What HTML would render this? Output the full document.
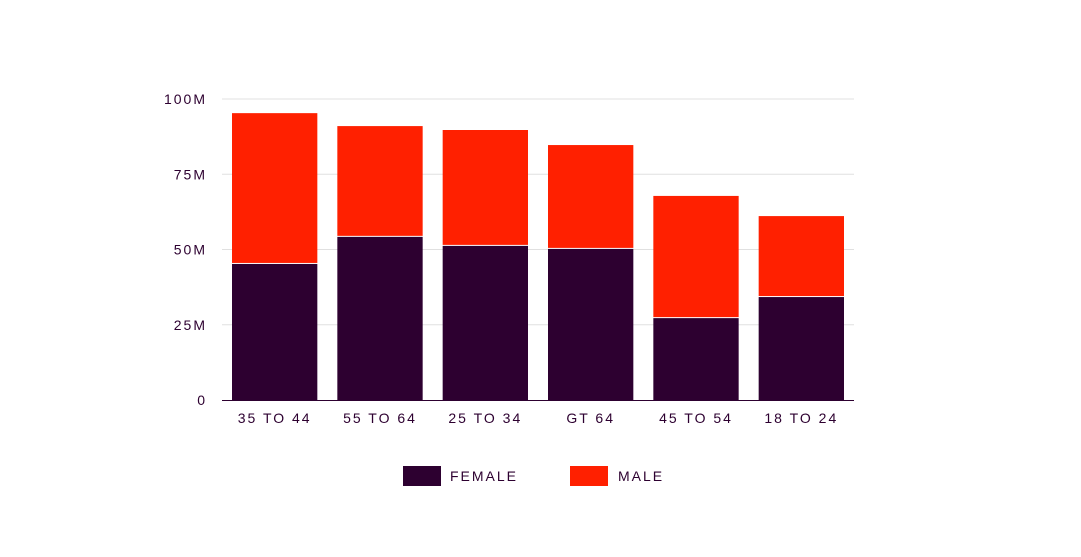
<!DOCTYPE html>
<html><head><meta charset="utf-8"><style>
body{margin:0;background:#fff;width:1081px;height:552px;overflow:hidden;font-family:"Liberation Sans",sans-serif}
text{font-family:"Liberation Sans",sans-serif;fill:#2d0030;letter-spacing:2px;font-size:14px}
</style></head><body>
<svg id="chart" width="1081" height="552" xmlns="http://www.w3.org/2000/svg">
<g id="grid"></g>
<g id="bars"></g>
<g id="axes"></g>
<g>
<rect x="403" y="466" width="38" height="20" fill="#2d0030"/>
<text x="450" y="481">FEMALE</text>
<rect x="570" y="466" width="38" height="20" fill="#ff2000"/>
<text x="618" y="481">MALE</text>
</g>
</svg>
<script>
const categories=["35 TO 44","55 TO 64","25 TO 34","GT 64","45 TO 54","18 TO 24"];
const female=[45.2,54.2,51.2,50.2,27.2,34.2];
const male=[50.1,36.8,38.5,34.5,40.6,26.9];
const yTicks=[0,25,50,75,100];
const yTickLabels=["0","25M","50M","75M","100M"];
const NS="http://www.w3.org/2000/svg";
const x0=222,x1=854,y0=400,y100=99;
const y=v=>y0-(v/100)*(y0-y100);
const band=(x1-x0)/categories.length;
const bx=i=>x0+i*band+10;
const bw=band-20;
function mk(t,a,p){const e=document.createElementNS(NS,t);for(const k in a)e.setAttribute(k,a[k]);p.appendChild(e);return e;}
const grid=document.getElementById('grid'),bars=document.getElementById('bars'),axes=document.getElementById('axes');
yTicks.forEach((t,i)=>{
 if(t>0){const l=mk('line',{x1:x0,x2:x1,y1:y(t),y2:y(t),stroke:'#e0e0e0','stroke-width':1},grid);
 
 }
 const tx=mk('text',{x:207,y:y(t)+5,'text-anchor':'end'},axes);tx.textContent=yTickLabels[i];
 
 
});
categories.forEach((c,i)=>{
 const f=mk('rect',{x:bx(i),y:y(female[i]),width:bw,height:y0-y(female[i]),fill:'#2d0030'},bars);
 
 
 const tot=female[i]+male[i];
 const m=mk('rect',{x:bx(i),y:y(tot),width:bw,height:y(female[i])-y(tot)-1,fill:'#ff2000'},bars);
 
 
 const tx=mk('text',{x:bx(i)+bw/2,y:423,'text-anchor':'middle'},axes);tx.textContent=c;
 
 
});
const ax=mk('line',{x1:x0,x2:x1,y1:y0+0.5,y2:y0+0.5,stroke:'#2d0030','stroke-width':1},axes);


</script>
</body></html>
